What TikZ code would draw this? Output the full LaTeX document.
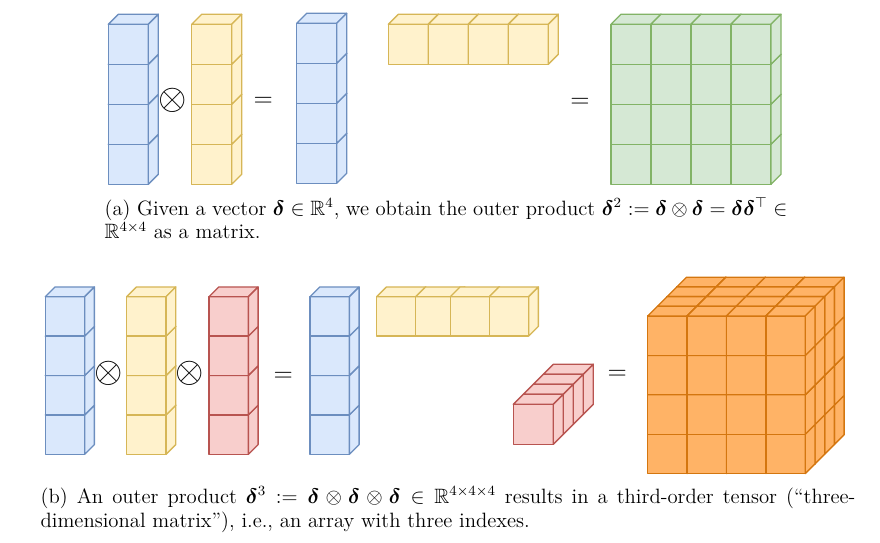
\documentclass[tikz,border=0pt]{standalone}
\usepackage{amsmath}
\usepackage{amssymb}
\usepackage{bm}

\definecolor{blueFill}{HTML}{DAE8FC}
\definecolor{blueLine}{HTML}{6C8EBF}
\definecolor{yellowFill}{HTML}{FFF2CC}
\definecolor{yellowLine}{HTML}{D6B656}
\definecolor{greenFill}{HTML}{D5E8D4}
\definecolor{greenLine}{HTML}{82B366}
\definecolor{redFill}{HTML}{F8CECC}
\definecolor{redLine}{HTML}{B85450}
\definecolor{orangeFill}{HTML}{FFB366}
\definecolor{orangeLine}{HTML}{D4760F}

% one cube: front top-left corner (x,y), width, height, depth, style
\newcommand{\unitcube}[6]{%
  \filldraw[#6] (#1,#2) rectangle ++(#3,#4);
  \filldraw[#6] (#1,#2) -- ++(#5,-#5) -- ++(#3,0) -- ++(-#5,#5) -- cycle;
  \filldraw[#6] (#1+#3,#2) -- ++(#5,-#5) -- ++(0,#4) -- ++(-#5,#5) -- cycle;
}
% a column of four cubes (drawn bottom first)
\newcommand{\cubecol}[5]{%
  \foreach \r in {3,2,1,0}{\unitcube{#1}{#2+\r*#3}{#3}{#3}{#4}{#5}}
}

\tikzset{
  bluecube/.style={fill=blueFill, draw=blueLine},
  yellowcube/.style={fill=yellowFill, draw=yellowLine},
  greencube/.style={fill=greenFill, draw=greenLine},
  redcube/.style={fill=redFill, draw=redLine},
  orangecube/.style={fill=orangeFill, draw=orangeLine},
  opsign/.style={inner sep=0pt, font=\fontsize{15}{15}\selectfont},
  prodsign/.style={inner sep=0pt, font=\fontsize{21}{21}\selectfont},
  caption/.style={anchor=north west, inner sep=0pt, align=justify,
    font=\fontsize{11.8}{13.6}\selectfont}
}

\begin{document}
\begin{tikzpicture}[x=0.02cm, y=-0.02cm, line width=0.75pt, line join=round]
  \useasboundingbox (0,0) rectangle (880,543);

  %-----------------------------
  % (a) outer product of two vectors
  \def\sa{40}
  \def\da{10}
  \cubecol{108.3}{24.3}{\sa}{\da}{bluecube}
  \node[prodsign] (ota) at (172.7,100) {$\otimes$};
  \cubecol{191.7}{24.3}{\sa}{\da}{yellowcube}
  \node[opsign] (eqa1) at (263.3,101.7) {$=$};
  \cubecol{296.7}{23.3}{\sa}{\da}{bluecube}
  % row vector
  \foreach \c in {0,1,2,3}{
    \unitcube{388.3+\c*\sa}{24.3}{\sa}{\sa}{\da}{yellowcube}
  }
  \node[opsign] (eqa2) at (580,103.3) {$=$};
  % 4x4 matrix
  \foreach \r in {3,2,1,0}{
    \foreach \c in {0,1,2,3}{
      \unitcube{611+\c*\sa}{24.3+\r*\sa}{\sa}{\sa}{\da}{greencube}
    }
  }

  \node[caption, text width=13.66cm] (capa) at (104,197)
    {(a) Given a vector $\bm{\delta}\in\mathbb{R}^4$, we obtain the outer product
     $\bm{\delta}^2 := \bm{\delta}\otimes\bm{\delta} = \bm{\delta}\bm{\delta}^\top \in$\linebreak
     $\mathbb{R}^{4\times4}$ as a matrix.};

  %-----------------------------
  % (b) outer product of three vectors
  \def\sb{39.4}
  \def\db{9.7}
  \cubecol{45.3}{296.7}{\sb}{\db}{bluecube}
  \node[prodsign] (otb1) at (108.7,373.3) {$\otimes$};
  \cubecol{126.7}{296.7}{\sb}{\db}{yellowcube}
  \node[prodsign] (otb2) at (190,373.3) {$\otimes$};
  \cubecol{209}{296.7}{\sb}{\db}{redcube}
  \node[opsign] (eqb1) at (283.3,376.7) {$=$};
  \cubecol{310}{296.7}{\sb}{\db}{bluecube}
  % row vector (cells overlap a little)
  \foreach \x in {376.7,415.7,450.3,489.3}{
    \unitcube{\x}{296.7}{\sb}{\sb}{\db}{yellowcube}
  }
  % depth vector, back slice first
  \foreach \k in {3,2,1,0}{
    \unitcube{513.3+\k*10}{404.3-\k*10}{40}{40}{10}{redcube}
  }
  \node[opsign] (eqb2) at (617.3,375) {$=$};
  % 4x4x4 tensor
  \foreach \k in {3,2,1,0}{
    \foreach \r in {3,2,1,0}{
      \foreach \c in {0,1,2,3}{
        \unitcube{647.7+\c*\sb+\k*\db}{316+\r*\sb-\k*\db}{\sb}{\sb}{\db}{orangecube}
      }
    }
  }

  \node[caption, text width=16.3cm] (capb) at (40,486)
    {(b) An outer product $\bm{\delta}^3 := \bm{\delta}\otimes\bm{\delta}\otimes\bm{\delta}
     \in \mathbb{R}^{4\times4\times4}$ results in a third-order tensor (``three-\linebreak
     dimensional matrix''), i.e., an array with three indexes.};
\end{tikzpicture}
\end{document}
